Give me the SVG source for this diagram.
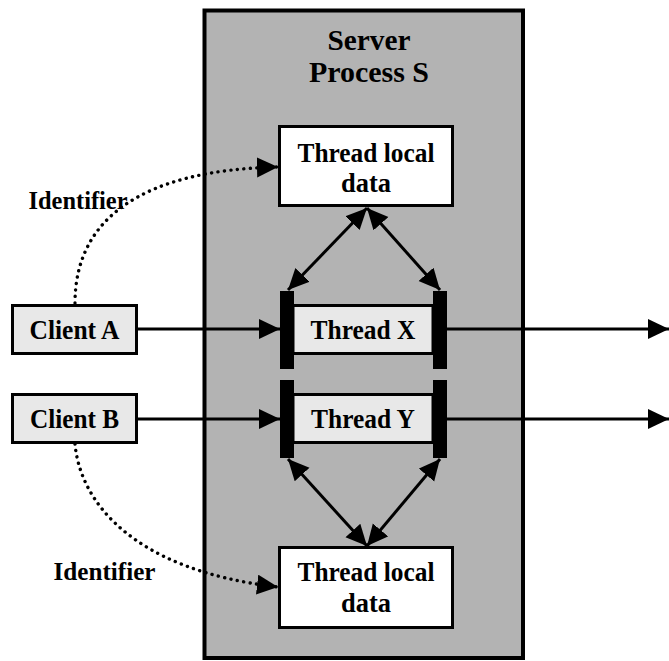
<svg xmlns="http://www.w3.org/2000/svg" width="669" height="661" viewBox="0 0 669 661">
  <style>
    text { font-family: "Liberation Serif", "Times New Roman", serif; font-weight: bold; fill: #000; text-anchor: middle; }
    .title { font-size: 30px; }
    .lbl { font-size: 28px; }
    .cli { font-size: 27px; }
    .ident { font-size: 24.5px; }
    .box { stroke: #000; stroke-width: 3; }
    .white { fill: #fff; }
    .light { fill: #e8e8e8; }
    .bar { fill: #000; }
    .edge { fill: none; stroke: #000; stroke-width: 3; }
    .dots { fill: none; stroke: #000; stroke-width: 3.4; stroke-dasharray: 0.1 6.4; stroke-linecap: round; }
  </style>
  <defs>
    <marker id="head" markerUnits="userSpaceOnUse" markerWidth="24" markerHeight="22" refX="21" refY="10" orient="auto-start-reverse" viewBox="0 0 24 22">
      <path d="M0,0 L21,10 L0,20 Z" fill="#000"/>
    </marker>
  </defs>

  <!-- Server process container -->
  <g id="server">
    <rect x="204.5" y="10.5" width="318.5" height="647.5" fill="#b3b3b3" stroke="#000" stroke-width="4"/>
    <text class="title" x="369" y="50" textLength="83" lengthAdjust="spacingAndGlyphs">Server</text>
    <text class="title" x="369" y="82" textLength="120" lengthAdjust="spacingAndGlyphs">Process S</text>
  </g>

  <!-- Connectors -->
  <g id="connectors">
    <!-- identifiers passed from the clients -->
    <path class="dots" d="M75,303 C75,220 140,170 278,167" marker-end="url(#head)"/>
    <path class="dots" d="M75,444 C80,500 130,570 278,587" marker-end="url(#head)"/>
    <!-- requests into the threads -->
    <line class="edge" x1="138" y1="329" x2="280" y2="329" marker-end="url(#head)"/>
    <line class="edge" x1="138" y1="419" x2="280" y2="419" marker-end="url(#head)"/>
    <!-- outgoing calls -->
    <line class="edge" x1="447" y1="329" x2="669" y2="329" marker-end="url(#head)"/>
    <line class="edge" x1="447" y1="419" x2="669" y2="419" marker-end="url(#head)"/>
    <!-- thread local data access -->
    <line class="edge" x1="367" y1="208" x2="288" y2="290" marker-start="url(#head)" marker-end="url(#head)"/>
    <line class="edge" x1="367" y1="208" x2="440" y2="290" marker-start="url(#head)" marker-end="url(#head)"/>
    <line class="edge" x1="288" y1="459" x2="367" y2="546" marker-start="url(#head)" marker-end="url(#head)"/>
    <line class="edge" x1="440" y1="459" x2="367" y2="546" marker-start="url(#head)" marker-end="url(#head)"/>
  </g>

  <g id="tld-top">
    <rect class="box white" x="279.5" y="126.5" width="173" height="79"/>
    <text class="lbl" x="366" y="162" textLength="137" lengthAdjust="spacingAndGlyphs">Thread local</text>
    <text class="lbl" x="366" y="192" textLength="50" lengthAdjust="spacingAndGlyphs">data</text>
  </g>

  <g id="tld-bottom">
    <rect class="box white" x="279.5" y="547.5" width="173" height="80"/>
    <text class="lbl" x="366" y="581" textLength="137" lengthAdjust="spacingAndGlyphs">Thread local</text>
    <text class="lbl" x="366" y="612" textLength="50" lengthAdjust="spacingAndGlyphs">data</text>
  </g>

  <g id="thread-x">
    <rect class="box light" x="293" y="305.5" width="140" height="48"/>
    <rect class="bar" x="280" y="291" width="14" height="78"/>
    <rect class="bar" x="433" y="291" width="14" height="78"/>
    <text class="lbl" x="363" y="339" textLength="105" lengthAdjust="spacingAndGlyphs">Thread X</text>
  </g>

  <g id="thread-y">
    <rect class="box light" x="293" y="394.5" width="140" height="48"/>
    <rect class="bar" x="280" y="380" width="14" height="78"/>
    <rect class="bar" x="433" y="380" width="14" height="78"/>
    <text class="lbl" x="363" y="428" textLength="104" lengthAdjust="spacingAndGlyphs">Thread Y</text>
  </g>

  <g id="client-a">
    <rect class="box light" x="12.5" y="305.5" width="124" height="48"/>
    <text class="cli" x="74.5" y="339" textLength="90" lengthAdjust="spacingAndGlyphs">Client A</text>
  </g>

  <g id="client-b">
    <rect class="box light" x="12.5" y="394.5" width="124" height="48"/>
    <text class="cli" x="74.5" y="428" textLength="89" lengthAdjust="spacingAndGlyphs">Client B</text>
  </g>

  <g id="labels">
    <text class="ident" x="78" y="209" textLength="99" lengthAdjust="spacingAndGlyphs">Identifier</text>
    <text class="ident" x="104.5" y="580" textLength="102" lengthAdjust="spacingAndGlyphs">Identifier</text>
  </g>
</svg>
